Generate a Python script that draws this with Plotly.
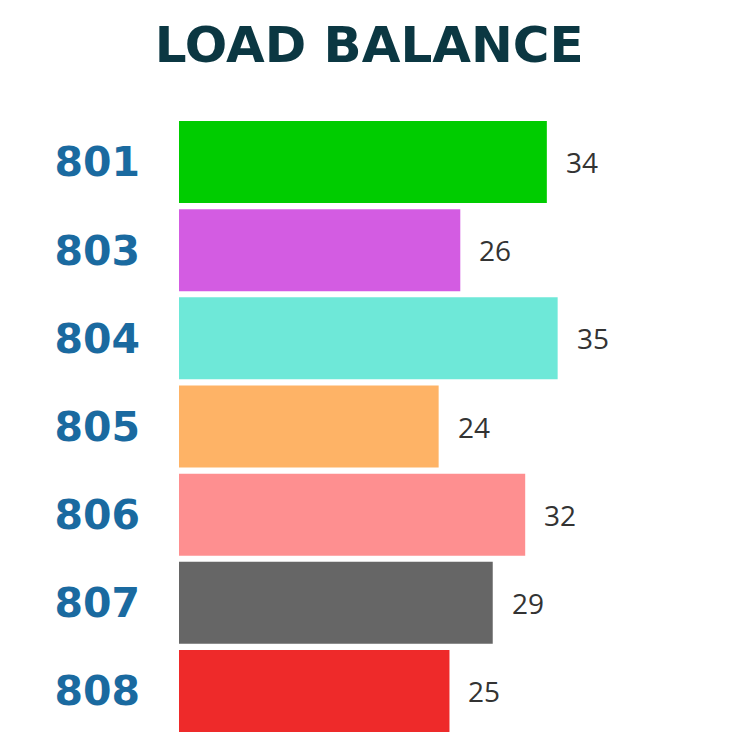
import plotly.graph_objects as go

# Load per node
nodes = ["801", "803", "804", "805", "806", "807", "808"]
loads = [34, 26, 35, 24, 32, 29, 25]
colors = ["#00cc00", "#d35ce2", "#6ee8d8", "#feb366", "#fe8f90", "#666666", "#ee2a2a"]

fig = go.Figure(
    go.Bar(
        x=loads,
        y=nodes,
        orientation="h",
        marker=dict(color=colors, line=dict(width=0)),
        hoverinfo="x+y",
    )
)

# value labels next to each bar (category axis positions are serial indices)
for i, v in enumerate(loads):
    fig.add_annotation(
        x=v, y=i, xref="x", yref="y",
        text=str(v), showarrow=False,
        xanchor="left", yanchor="middle", xshift=17,
        font=dict(family="Open Sans", size=28, color="#333333"),
    )

fig.update_layout(
    width=734,
    height=735,
    margin=dict(l=179, r=0, t=118, b=0),
    paper_bgcolor="white",
    plot_bgcolor="white",
    bargap=0.07,
    showlegend=False,
    title=dict(
        text="<b>LOAD BALANCE</b>",
        x=0.503, xref="container", xanchor="center",
        y=1 - 44 / 735, yref="container", yanchor="middle",
        font=dict(family="DejaVu Sans", size=50, color="#0b3742"),
    ),
    xaxis=dict(range=[0, 51.3], visible=False, fixedrange=True),
    yaxis=dict(
        type="category",
        categoryorder="array",
        categoryarray=nodes,
        range=[len(nodes) - 0.5, -0.5],
        showgrid=False, zeroline=False, showline=False,
        ticks="", ticklabelstandoff=38,
        tickfont=dict(family="DejaVu Sans", size=41, color="#1a6aa0", weight="bold"),
    ),
)

fig.write_html("out.html")
